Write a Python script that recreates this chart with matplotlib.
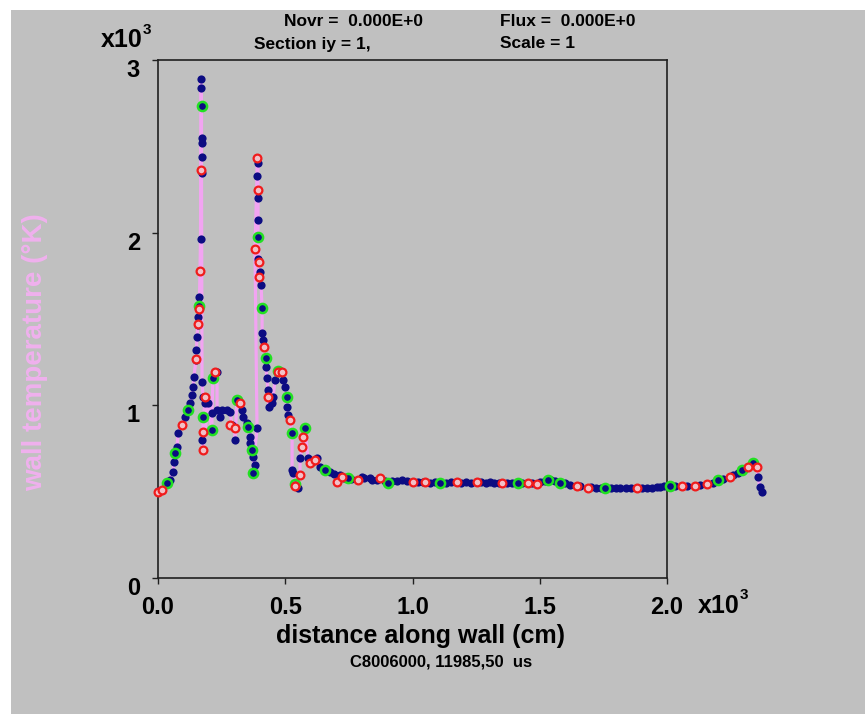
import matplotlib

matplotlib.use("Agg")
import matplotlib.pyplot as plt
import numpy as np
from matplotlib.patches import Rectangle
from matplotlib.transforms import ScaledTranslation

# wall profile in path order: distance along wall (cm) and wall temperature (K)
wall_dist = [
    0, 16, 35, 47, 59, 63, 67, 75, 79, 94, 106, 118, 126, 134, 138, 141, 149, 151,
    153, 157, 159, 161, 163, 165, 167, 169, 170, 171, 171, 171, 171, 171,
    173, 177, 185, 177, 177, 173, 177, 196, 212, 212, 216, 224, 232, 232, 244,
    251, 271, 283, 291, 303, 303, 310, 322, 330, 334, 350, 354, 361, 361, 369,
    373, 381, 373, 389, 381, 389, 389, 393, 393, 393, 393, 393, 397, 393, 401,
    397, 405, 409, 409, 412, 417, 424, 424, 428, 432, 432, 436, 448, 452, 460,
    472, 487, 491, 499, 507, 507, 511, 519, 527, 527, 530, 538, 550, 558, 558,
    566, 570, 578, 589, 597, 605, 617, 625, 637, 656, 676, 690, 703, 715, 723,
    730, 747, 760, 786, 802, 810, 833, 840, 860, 872, 890, 904, 920, 940, 959,
    980, 1002, 1020, 1040, 1049, 1070, 1090, 1108, 1130, 1150, 1175, 1190, 1210,
    1230, 1253, 1270, 1290, 1304, 1320, 1340, 1352, 1370, 1390, 1414, 1430, 1454,
    1470, 1489, 1500, 1520, 1532, 1545, 1560, 1580, 1600, 1620, 1646, 1660, 1689,
    1700, 1720, 1740, 1756, 1780, 1800, 1815, 1840, 1860, 1882, 1900, 1920, 1940,
    1960, 1972, 1990, 2012, 2030, 2059, 2080, 2110, 2130, 2157, 2180, 2200, 2220,
    2247, 2260, 2280, 2295, 2310, 2318, 2338, 2354, 2357, 2365, 2373,
]
wall_temp = [
    504, 510, 550, 567, 614, 670, 724, 758, 840, 886, 932, 973, 1013, 1060, 1106,
    1164, 1262, 1320, 1395, 1465, 1511, 1575, 1627, 1778, 1963, 2889, 2837, 2733,
    2548, 2519, 2437, 2345,
    1135, 1048, 1013, 932, 845, 799, 741, 1013, 857, 955, 1158, 1193, 1193, 973,
    932, 973, 973, 961, 886, 869, 799, 1031, 1013, 973, 932, 897, 874, 816, 782,
    741, 701, 654, 608, 869, 1905, 2328, 2432, 2403, 2247, 2200, 2073, 1974, 1830,
    1847, 1772, 1743, 1696, 1563, 1419, 1378, 1337, 1274, 1222, 1158, 1089, 1048,
    990, 1013, 1048, 1146, 1193, 1193, 1146, 1106, 1048, 990, 944, 915, 840, 625,
    608, 538, 521, 596, 695, 758, 816, 869, 695, 666, 672, 683, 695, 643, 625,
    614, 600, 556, 596, 585, 580, 579, 575, 567, 585, 577, 579, 570, 566, 579,
    562, 550, 560, 562, 567, 560, 556, 555, 558, 556, 553, 556, 550, 552, 554,
    556, 553, 556, 552, 556, 554, 552, 556, 551, 553, 550, 552, 549, 550, 552,
    550, 548, 544, 555, 562, 567, 566, 560, 550, 548, 540, 533, 530, 521, 526,
    522, 520, 521, 522, 520, 521, 522, 520, 521, 522, 521, 523, 526, 527, 530,
    533, 534, 533, 532, 533, 538, 544, 552, 567, 575, 585, 595, 610, 625, 635,
    643, 666, 643, 585, 527, 498,
]

red_dist = [
    0, 16, 94, 151, 157, 161, 165, 170, 185, 177, 177, 224, 283, 303, 322, 381,
    389, 393, 397, 397, 417, 432, 472, 487, 519, 538, 558, 566, 570, 597, 617,
    703, 723, 786, 872, 1002, 1049, 1175, 1253, 1352, 1454, 1489, 1646, 1689,
    1882, 2059, 2110, 2157, 2247, 2318, 2354,
]
red_temp = [
    500, 510, 886, 1270, 1470, 1560, 1778, 2365, 1048, 845, 741, 1193, 886, 869,
    1013, 1905, 2432, 2247, 1830, 1743, 1337, 1048, 1193, 1193, 915, 530, 596,
    758, 816, 666, 683, 556, 585, 567, 579, 556, 556, 556, 556, 550, 550, 544,
    533, 521, 521, 533, 533, 544, 585, 643, 643,
]

green_dist = [
    35, 67, 118, 161, 171, 177, 212, 216, 310, 354, 369, 373, 393, 409, 424, 472,
    507, 527, 538, 578, 656, 747, 904, 1108, 1414, 1532, 1580, 1756, 2012, 2200,
    2295, 2338,
]
green_temp = [
    550, 724, 973, 1575, 2733, 932, 857, 1158, 1031, 874, 741, 608, 1974, 1563,
    1274, 1200, 1048, 840, 545, 869, 625, 579, 550, 550, 550, 567, 550, 521, 533,
    567, 625, 666,
]

x_ticks = [0.0, 0.5, 1.0, 1.5, 2.0]
x_tick_labels = ["0.0", "0.5", "1.0", "1.5", "2.0"]
y_ticks = [0, 1, 2, 3]
y_tick_labels = ["0", "1", "2", "3"]

GREY = "#c0c0c0"
FONT = "Liberation Sans"

plt.rcParams.update({"font.family": FONT, "font.weight": "bold"})

fig = plt.figure(figsize=(8.65, 7.14), dpi=100, facecolor="white")
fig.patches.append(
    Rectangle((11 / 865, 0), 1 - 11 / 865, 1 - 10 / 714, transform=fig.transFigure,
              facecolor=GREY, edgecolor="none", zorder=-5)
)
ax = fig.add_axes([158 / 865, 136 / 714, 509 / 865, 518 / 714])
ax.set_zorder(2)
ax.set_facecolor(GREY)

x = np.array(wall_dist) / 1e3
y = np.array(wall_temp) / 1e3
ax.plot(x, y, color="#f2a4f2", linewidth=2.3, zorder=2, clip_on=False)
ax.plot(x, y, linestyle="none", marker="o", markersize=5.9, color="#0c0c82",
        markeredgewidth=0, zorder=3, clip_on=False)
ax.plot(np.array(green_dist) / 1e3, np.array(green_temp) / 1e3, linestyle="none",
        marker="o", markersize=6.6, markerfacecolor="none", markeredgecolor="#22e022",
        markeredgewidth=1.8, zorder=4, clip_on=False)
ax.plot(np.array(red_dist) / 1e3, np.array(red_temp) / 1e3, linestyle="none",
        marker="o", markersize=5.6, markerfacecolor="#f2c0c8", markeredgecolor="#f01c1c",
        markeredgewidth=1.6, zorder=5, clip_on=False)

ax.set_xlim(0, 2.0)
ax.set_ylim(0, 3)
ax.set_xticks(x_ticks)
ax.set_xticklabels(x_tick_labels)
ax.set_yticks(y_ticks)
ax.set_yticklabels(y_tick_labels)
ax.tick_params(axis="both", direction="out", length=4, width=1.0, color="#202020",
               labelsize=17, pad=9)
for lab in ax.get_yticklabels():
    lab.set_transform(lab.get_transform() + ScaledTranslation(0, -8 / 100, fig.dpi_scale_trans))
for side in ("left", "right", "top", "bottom"):
    ax.spines[side].set_color("#202020")
    ax.spines[side].set_linewidth(1.2)

# labels and annotations
fig.text(421 / 865, 1 - 636 / 714, "distance along wall (cm)", ha="center", va="center",
         fontsize=18, fontweight="bold")
fig.text(35 / 865, 1 - 352 / 714, "wall temperature (°K)", ha="center", va="center",
         rotation=90, fontsize=20, fontweight="bold", color="#f0b0ee")
fig.text(441 / 865, 1 - 662 / 714, "C8006000, 11985,50  us", ha="center", va="center",
         fontsize=12, fontweight="bold")
fig.text(284 / 865, 1 - 22 / 714, "Novr =  0.000E+0", ha="left", va="center",
         fontsize=12.5, fontweight="bold")
fig.text(500 / 865, 1 - 22 / 714, "Flux =  0.000E+0", ha="left", va="center",
         fontsize=12.5, fontweight="bold")
fig.text(254 / 865, 1 - 44 / 714, "Section iy = 1,", ha="left", va="center",
         fontsize=12.5, fontweight="bold")
fig.text(500 / 865, 1 - 44 / 714, "Scale = 1", ha="left", va="center",
         fontsize=12.5, fontweight="bold")
fig.text(101 / 865, 1 - 40 / 714, "x10", ha="left", va="center", fontsize=18,
         fontweight="bold")
fig.text(143 / 865, 1 - 30 / 714, "3", ha="left", va="center", fontsize=11,
         fontweight="bold")
fig.text(698 / 865, 1 - 606 / 714, "x10", ha="left", va="center", fontsize=18,
         fontweight="bold")
fig.text(740 / 865, 1 - 595 / 714, "3", ha="left", va="center", fontsize=11,
         fontweight="bold")

fig.savefig("out.png", dpi=100, facecolor="white")
